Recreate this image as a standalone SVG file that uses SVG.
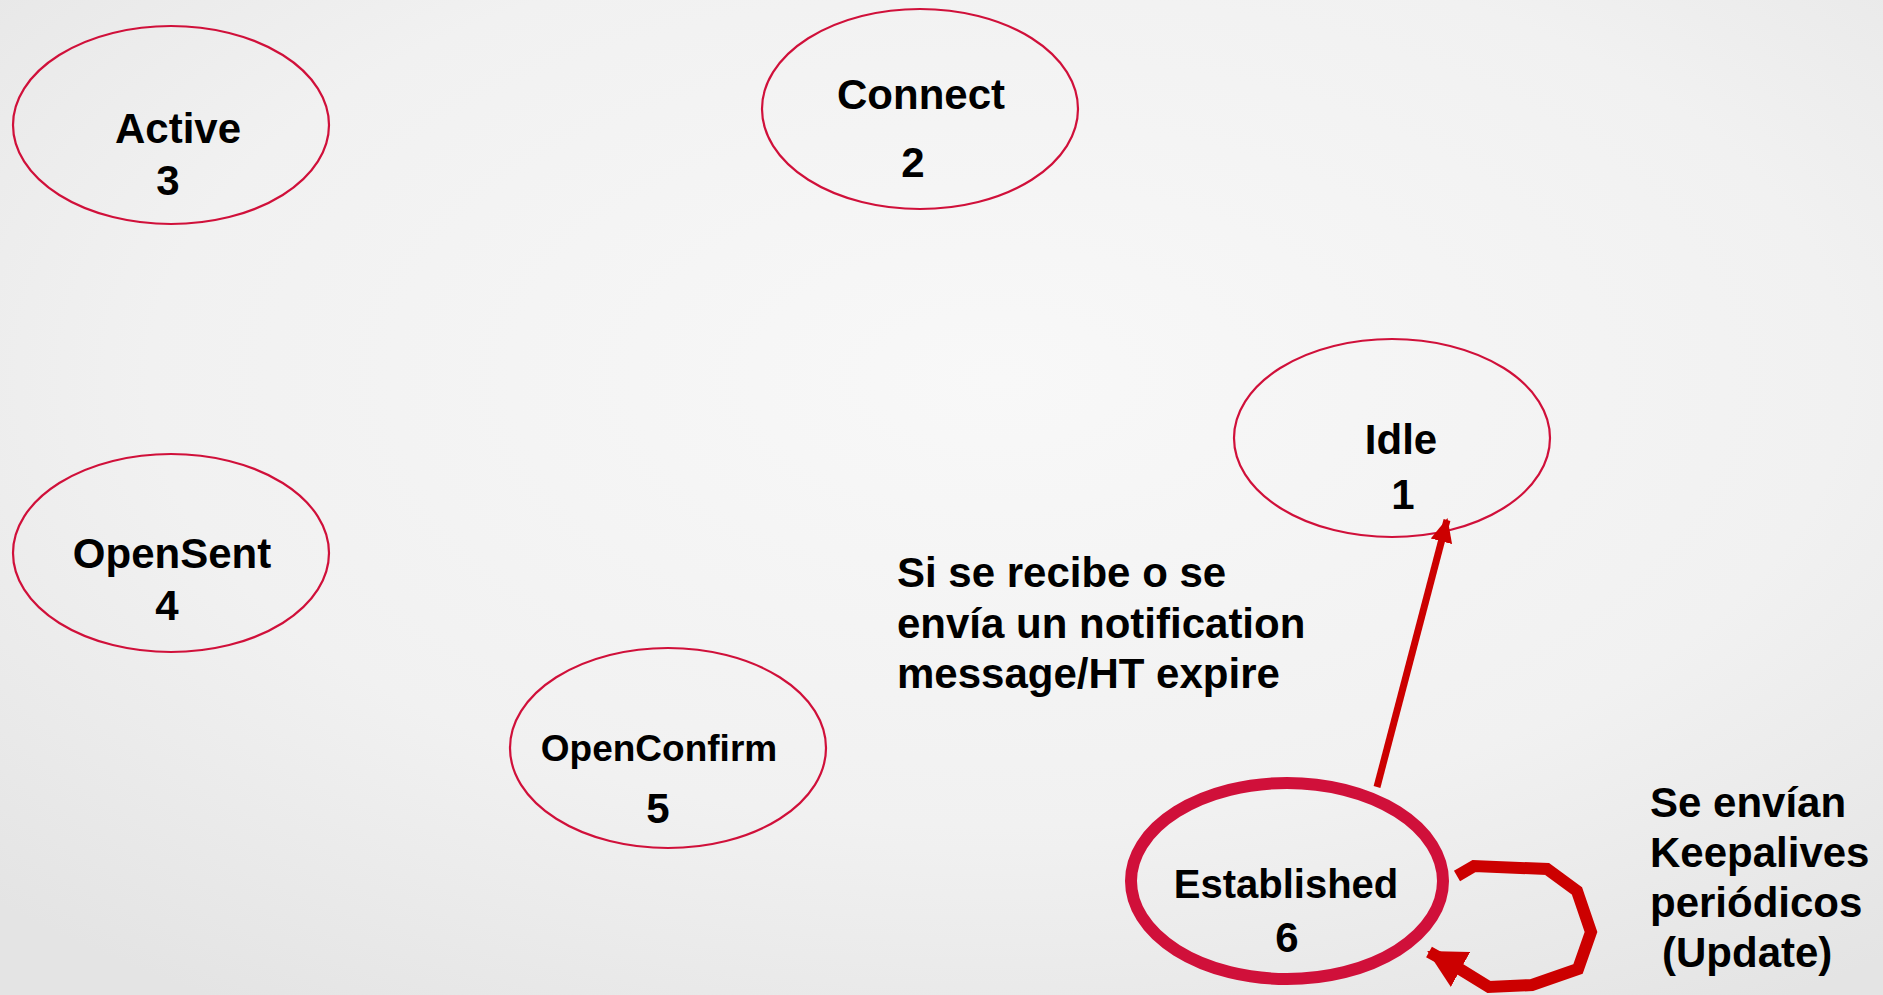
<svg xmlns="http://www.w3.org/2000/svg" width="1883" height="995" viewBox="0 0 1883 995">
<style>
.node{fill:none;stroke:#d0103a;stroke-width:2.2}
.thick{stroke-width:12}
.t{font-family:"Liberation Sans",Arial,sans-serif;font-weight:bold;fill:#000;font-size:42px;text-anchor:middle}
.lbl{font-family:"Liberation Sans",Arial,sans-serif;font-weight:bold;fill:#000;font-size:42px}
.edge{fill:none;stroke:#cc0000;stroke-linejoin:miter}
</style>
<defs>
<radialGradient id="bg" cx="0.53" cy="0.38" r="0.75">
<stop offset="0" stop-color="#f8f8f8"/>
<stop offset="0.6" stop-color="#f1f1f1"/>
<stop offset="1" stop-color="#e4e4e4"/>
</radialGradient>
<marker id="ah1" markerUnits="userSpaceOnUse" markerWidth="24" markerHeight="24" refX="22" refY="12" orient="auto">
<path d="M0,1 L24,12 L0,23 Z" fill="#cc0000"/>
</marker>
<marker id="ah2" markerUnits="userSpaceOnUse" markerWidth="38" markerHeight="40" refX="36" refY="20" orient="auto">
<path d="M0,0 L38,20 L0,40 Z" fill="#cc0000"/>
</marker>
</defs>
<rect width="1883" height="995" fill="url(#bg)"/>

<g id="node-active">
<ellipse class="node" cx="171" cy="125" rx="158" ry="99"/>
<text class="t" x="178" y="143">Active</text>
<text class="t" x="168" y="195">3</text>
</g>
<g id="node-connect">
<ellipse class="node" cx="920" cy="109" rx="158" ry="100"/>
<text class="t" x="921" y="109">Connect</text>
<text class="t" x="913" y="177">2</text>
</g>
<g id="node-idle">
<ellipse class="node" cx="1392" cy="438" rx="158" ry="99"/>
<text class="t" x="1401" y="454">Idle</text>
<text class="t" x="1403" y="509">1</text>
</g>
<g id="node-opensent">
<ellipse class="node" cx="171" cy="553" rx="158" ry="99"/>
<text class="t" x="172" y="568">OpenSent</text>
<text class="t" x="167" y="620">4</text>
</g>
<g id="node-openconfirm">
<ellipse class="node" cx="668" cy="748" rx="158" ry="100"/>
<text class="t" x="659" y="761" style="font-size:37px">OpenConfirm</text>
<text class="t" x="658" y="823">5</text>
</g>
<g id="node-established">
<ellipse class="node thick" cx="1287" cy="881" rx="156" ry="98"/>
<text class="t" x="1286" y="898" style="font-size:40px">Established</text>
<text class="t" x="1287" y="952">6</text>
</g>

<g id="connectors">
<line class="edge" x1="1377" y1="787" x2="1447" y2="520" stroke-width="7" marker-end="url(#ah1)"/>
<polyline class="edge" stroke-width="12" points="1457,876 1474,866 1547,869 1577,891 1591,932 1578,969 1532,985 1489,987 1458,968 1429,952" marker-end="url(#ah2)"/>
</g>

<g id="labels">
<text class="lbl" x="897" y="587">Si se recibe o se</text>
<text class="lbl" x="897" y="638">envía un notification</text>
<text class="lbl" x="897" y="688">message/HT expire</text>
<text class="lbl" x="1650" y="817">Se envían</text>
<text class="lbl" x="1650" y="867">Keepalives</text>
<text class="lbl" x="1650" y="917">periódicos</text>
<text class="lbl" x="1662" y="967">(Update)</text>
</g>
</svg>
